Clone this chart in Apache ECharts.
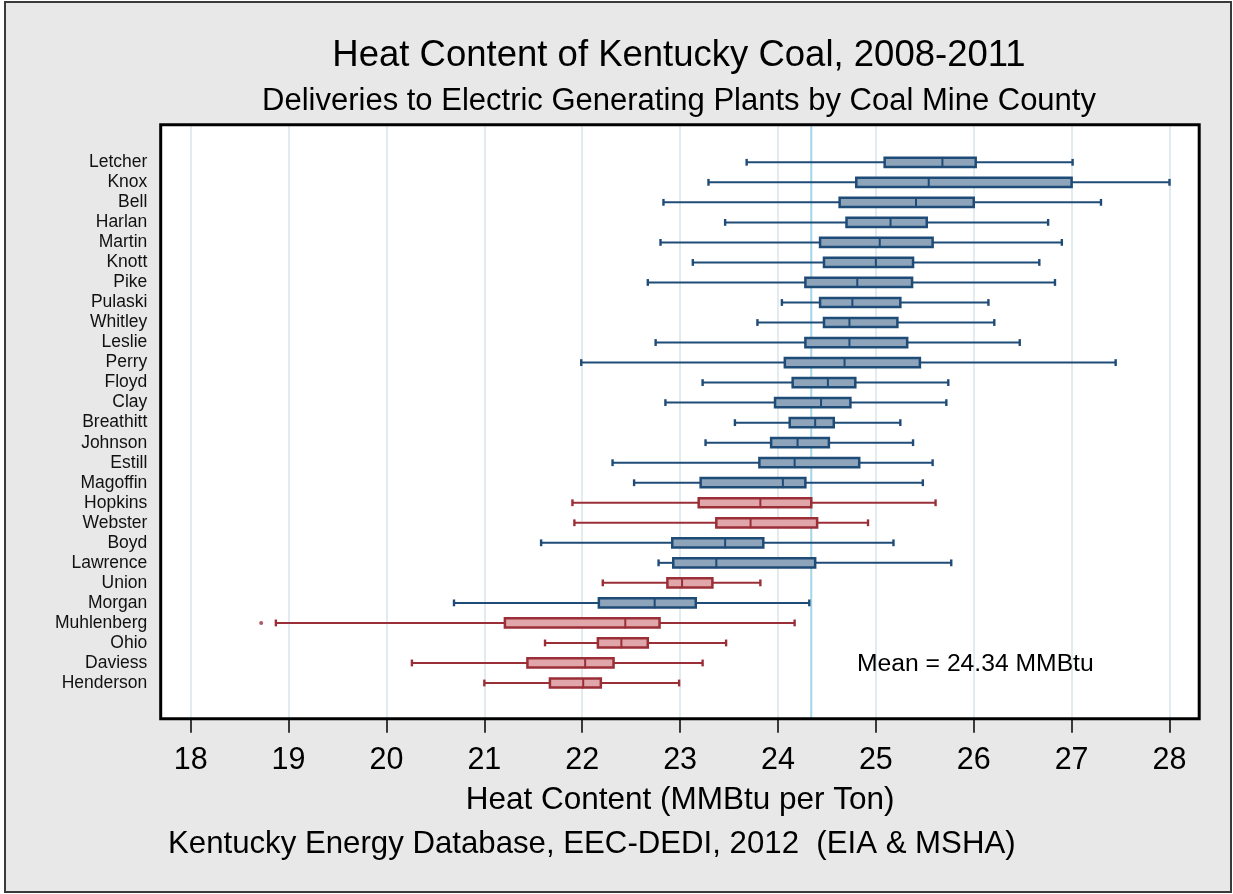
<!DOCTYPE html>
<html><head><meta charset="utf-8">
<script src="https://cdn.jsdelivr.net/npm/echarts@6/dist/echarts.min.js"></script>
<style>html,body{margin:0;padding:0;background:#fff}#c{width:1233px;height:894px}</style>
</head><body><div id="c"></div>
<script>
const COUNTIES = ["Letcher","Knox","Bell","Harlan","Martin","Knott","Pike","Pulaski","Whitley","Leslie","Perry","Floyd","Clay","Breathitt","Johnson","Estill","Magoffin","Hopkins","Webster","Boyd","Lawrence","Union","Morgan","Muhlenberg","Ohio","Daviess","Henderson"];
// E = Eastern coalfield (blue), W = Western coalfield (red)
const REGION = ["E","E","E","E","E","E","E","E","E","E","E","E","E","E","E","E","E","W","W","E","E","W","E","W","W","W","W"];
const MIN    = [23.68,23.29,22.83,23.46,22.80,23.13,22.67,24.04,23.79,22.75,21.99,23.23,22.85,23.56,23.26,22.31,22.53,21.90,21.92,21.58,22.78,22.21,20.69,18.87,21.62,20.26,21.00];
const Q1     = [25.09,24.80,24.63,24.70,24.43,24.47,24.28,24.43,24.47,24.28,24.07,24.15,23.97,24.12,23.93,23.81,23.21,23.19,23.37,22.92,22.93,22.87,22.17,21.21,22.16,21.44,21.67];
const MEDIAN = [25.68,25.54,25.41,25.15,25.04,25.00,24.81,24.76,24.73,24.73,24.68,24.51,24.44,24.38,24.20,24.17,24.05,23.82,23.72,23.46,23.37,23.02,22.74,22.44,22.40,22.03,22.01];
const Q3     = [26.02,27.00,26.00,25.52,25.58,25.38,25.37,25.25,25.22,25.32,25.45,24.79,24.74,24.57,24.52,24.83,24.28,24.34,24.40,23.85,24.38,23.33,23.16,22.79,22.67,22.32,22.19];
const MAX    = [27.01,28.00,27.30,26.76,26.90,26.67,26.83,26.15,26.21,26.47,27.45,25.74,25.72,25.25,25.38,25.58,25.48,25.61,24.92,25.18,25.77,23.82,24.32,24.17,23.47,23.23,22.99];
const OUTLIERS = [["Muhlenberg", 18.72]];
const MEAN = 24.34;
const X_MIN = 18, X_MAX = 28, X_STEP = 1;

const FONT = '"Liberation Sans", Arial, Helvetica, sans-serif';
const COLORS = {
  E: {stroke: '#1f4b77', fill: '#8ea4bb'},
  W: {stroke: '#9a2f38', fill: '#e0a6a9'}
};

const boxData = COUNTIES.map((c, i) => [i, MIN[i], Q1[i], MEDIAN[i], Q3[i], MAX[i]]);
const outlierData = OUTLIERS.map(o => [o[1], COUNTIES.indexOf(o[0])]);

function renderBox(params, api) {
  const idx = api.value(0);
  const c = v => api.coord([v, idx]);
  const pMin = c(api.value(1)), pQ1 = c(api.value(2)), pMed = c(api.value(3)), pQ3 = c(api.value(4)), pMax = c(api.value(5));
  const y = pMin[1];
  const row = api.size([0, 1])[1];
  const hb = row * 0.23, hc = row * 0.17, hm = row * 0.27;
  const col = COLORS[REGION[idx]];
  const ls = {stroke: col.stroke, lineWidth: 2};
  return {type: 'group', children: [
    {type: 'line', shape: {x1: pMin[0], y1: y, x2: pQ1[0], y2: y}, style: ls},
    {type: 'line', shape: {x1: pQ3[0], y1: y, x2: pMax[0], y2: y}, style: ls},
    {type: 'line', shape: {x1: pMin[0], y1: y - hc, x2: pMin[0], y2: y + hc}, style: {stroke: col.stroke, lineWidth: 2.4}},
    {type: 'line', shape: {x1: pMax[0], y1: y - hc, x2: pMax[0], y2: y + hc}, style: {stroke: col.stroke, lineWidth: 2.4}},
    {type: 'rect', shape: {x: pQ1[0], y: y - hb, width: pQ3[0] - pQ1[0], height: 2 * hb}, style: {fill: col.fill, stroke: col.stroke, lineWidth: 2.5}},
    {type: 'line', shape: {x1: pMed[0], y1: y - hm + 1, x2: pMed[0], y2: y + hm}, style: ls}
  ]};
}

const chart = echarts.init(document.getElementById('c'), null, {renderer: 'canvas'});
chart.setOption({
  backgroundColor: '#ffffff',
  animation: false,
  textStyle: {fontFamily: FONT},
  grid: [
    {left: 190.7, right: 63.5, top: 124.7, bottom: 175.3, outerBoundsMode: 'none', containLabel: false},
    {left: 190.7, right: 63.5, top: 162.3, bottom: 211, outerBoundsMode: 'none', containLabel: false}
  ],
  xAxis: [
    {type: 'value', gridIndex: 0, min: X_MIN, max: X_MAX, interval: X_STEP,
     axisLine: {show: false},
     axisTick: {show: true, inside: false, length: 14, lineStyle: {color: '#000', width: 1.5}},
     axisLabel: {margin: 26, fontSize: 30.5, color: '#000', fontFamily: FONT},
     splitLine: {show: true, lineStyle: {color: '#dbe8ed', width: 1.6}},
     name: 'Heat Content (MMBtu per Ton)', nameLocation: 'middle', nameGap: 66,
     nameTextStyle: {fontSize: 31.5, color: '#000', fontFamily: FONT}},
    {type: 'value', gridIndex: 1, min: X_MIN, max: X_MAX, interval: X_STEP, show: false}
  ],
  yAxis: [
    {type: 'value', gridIndex: 0, min: 0, max: 1, show: false},
    {type: 'value', gridIndex: 1, min: 0, max: COUNTIES.length - 1, interval: 1, inverse: true,
     axisLine: {show: false}, axisTick: {show: false}, splitLine: {show: false},
     axisLabel: {margin: 43.4, fontSize: 17.5, color: '#111', fontFamily: FONT,
       formatter: v => (Number.isInteger(v) && COUNTIES[v]) ? COUNTIES[v] : ''}}
  ],
  graphic: [
    {type: 'rect', z: -100, silent: true, shape: {x: 5, y: 2, width: 1226, height: 890}, style: {fill: '#e8e8e8', stroke: '#3a3a3a', lineWidth: 2}},
    {type: 'rect', z: -90, silent: true, shape: {x: 160.7, y: 124.7, width: 1038.5, height: 594}, style: {fill: '#ffffff'}},
    {type: 'rect', z: 100, silent: true, shape: {x: 160.7, y: 124.7, width: 1038.5, height: 594}, style: {fill: 'none', stroke: '#000', lineWidth: 3}},
    {type: 'text', z: 100, silent: true, x: 679, y: 56, style: {text: 'Heat Content of Kentucky Coal, 2008-2011', align: 'center', verticalAlign: 'middle', font: '36.5px ' + FONT, fill: '#000'}},
    {type: 'text', z: 100, silent: true, x: 679, y: 101, style: {text: 'Deliveries to Electric Generating Plants by Coal Mine County', align: 'center', verticalAlign: 'middle', font: '31px ' + FONT, fill: '#000'}},
    {type: 'text', z: 100, silent: true, x: 168, y: 844, style: {text: 'Kentucky Energy Database, EEC-DEDI, 2012  (EIA & MSHA)', align: 'left', verticalAlign: 'middle', font: '31.2px ' + FONT, fill: '#000'}},
    {type: 'text', z: 100, silent: true, x: 857, y: 664, style: {text: 'Mean = ' + MEAN.toFixed(2) + ' MMBtu', align: 'left', verticalAlign: 'middle', font: '24.7px ' + FONT, fill: '#000'}}
  ],
  series: [
    {type: 'line', xAxisIndex: 0, yAxisIndex: 0, z: 1, silent: true, showSymbol: false,
     data: [[MEAN, 0], [MEAN, 1]], lineStyle: {color: '#a3d5e8', width: 2}},
    {type: 'custom', xAxisIndex: 1, yAxisIndex: 1, z: 3, renderItem: renderBox,
     encode: {x: [1, 2, 3, 4, 5], y: 0}, data: boxData},
    {type: 'scatter', xAxisIndex: 1, yAxisIndex: 1, z: 3, symbolSize: 4,
     itemStyle: {color: COLORS.W.stroke}, data: outlierData}
  ]
});
</script>
</body></html>
